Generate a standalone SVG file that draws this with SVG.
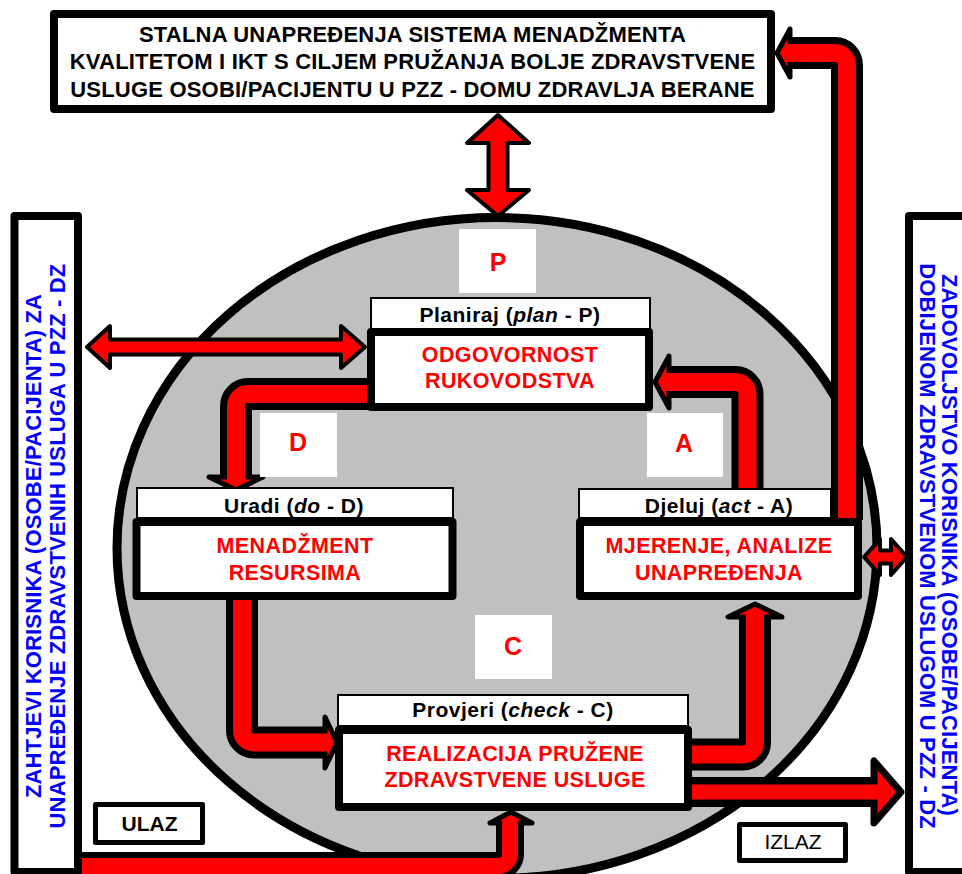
<svg xmlns="http://www.w3.org/2000/svg" width="962" height="874" viewBox="0 0 962 874">
<style>
text{font-family:"Liberation Sans",Arial,sans-serif;}
.blk{fill:none;stroke:#000;stroke-width:32;}
.red{fill:none;stroke:#f00;stroke-width:18;}
.head{fill:#f00;stroke:#000;stroke-width:5;stroke-linejoin:round;}
.dbl{fill:#f00;stroke:#000;stroke-width:4;stroke-linejoin:round;}
.box{fill:#fff;stroke:#000;stroke-width:8;stroke-linejoin:round;}
.lbl{fill:#fff;stroke:#000;stroke-width:2;}
.sq{fill:#fff;}
.small{fill:#fff;stroke:#000;stroke-width:5;stroke-linejoin:round;}
.t-top{font-size:22px;font-weight:bold;fill:#000;text-anchor:middle;letter-spacing:0.2px;}
.t-lbl{font-size:21px;font-weight:bold;fill:#000;text-anchor:middle;letter-spacing:0.5px;}
.t-red{font-size:21.5px;font-weight:bold;fill:#f00;text-anchor:middle;letter-spacing:0.4px;}
.t-let{font-size:25px;font-weight:bold;fill:#f00;text-anchor:middle;}
.t-side{font-size:22px;font-weight:bold;fill:#00f;text-anchor:middle;letter-spacing:0.15px;}
</style>
<rect width="962" height="874" fill="#fff"/>
<g id="cycle">
<ellipse cx="497" cy="548" rx="380" ry="330.5" fill="#c0c0c0" stroke="#000" stroke-width="9"/>
</g>
<g id="connectors">
<polygon class="dbl" points="498,115 529,143 507.5,143 507.5,190 529,190 498,216 467,190 488.5,190 488.5,143 467,143"/>
<polygon class="dbl" points="87,347 110,326 110,339.5 341,339.5 341,326 365,347 341,368 341,354.5 110,354.5 110,368"/>
<polygon class="dbl" points="864,557 880,539 880,550.5 891,550.5 891,539 907,557 891,575 891,563.5 880,563.5 880,575"/>
<path class="blk" d="M372 394 H248 A12 12 0 0 0 236 406 V478"/>
<polygon class="head" points="209,477 263,477 236,490"/>
<path class="red" d="M372 394 H248 A12 12 0 0 0 236 406 V481"/>
<path class="blk" d="M747.5 490 V394 A12 12 0 0 0 735.5 382 H668"/>
<polygon class="head" points="669,356 669,408 655,382"/>
<path class="red" d="M747.5 490 V394 A12 12 0 0 0 735.5 382 H666"/>
<path class="blk" d="M242 596 V730.5 A12 12 0 0 0 254 742.5 H325"/>
<polygon class="head" points="325,717 325,768 337,742.5"/>
<path class="red" d="M242 596 V730.5 A12 12 0 0 0 254 742.5 H328"/>
<path class="blk" d="M686 754.5 H743 A12 12 0 0 0 755 742.5 V617"/>
<polygon class="head" points="728,617 782,617 755,604"/>
<path class="red" d="M686 754.5 H743 A12 12 0 0 0 755 742.5 V614"/>
<path class="blk" style="stroke-width:30" d="M686 792 H874"/>
<polygon class="head" style="stroke-width:7" points="874,761 874,823 901,792"/>
<path class="red" style="stroke-width:15" d="M686 792 H878"/>
<path class="blk" style="stroke-width:28" d="M78 866 H498 A12 12 0 0 0 510 854 V823"/>
<polygon class="head" points="490,823 532,823 511,812"/>
<path class="red" style="stroke-width:16" d="M78 866 H498 A12 12 0 0 0 510 854 V820"/>
<path class="blk" d="M847 520 V65 A12 12 0 0 0 835 53 H790"/>
<polygon class="head" points="790,29 790,77 777,53"/>
<path class="red" d="M847 520 V65 A12 12 0 0 0 835 53 H787"/>
</g>
<g id="top-goal">
<rect class="box" x="54" y="14" width="717" height="95"/>
<text class="t-top" x="412.5" y="42">STALNA UNAPREĐENJA SISTEMA MENADŽMENTA</text>
<text class="t-top" x="412.5" y="69">KVALITETOM I IKT S CILJEM PRUŽANJA BOLJE ZDRAVSTVENE</text>
<text class="t-top" x="412.5" y="97">USLUGE OSOBI/PACIJENTU U PZZ - DOMU ZDRAVLJA BERANE</text>
</g>
<g id="left-requirements">
<rect class="box" x="14.5" y="216" width="63.5" height="656"/>
<text class="t-side" transform="translate(40.5,546) rotate(-90)">ZAHTJEVI KORISNIKA (OSOBE/PACIJENTA) ZA</text>
<text class="t-side" transform="translate(64.5,546) rotate(-90)">UNAPREĐENJE ZDRAVSTVENIH USLUGA U PZZ - DZ</text>
</g>
<g id="right-satisfaction">
<rect class="box" x="909" y="216" width="80" height="656"/>
<text class="t-side" transform="translate(941.5,545) rotate(90)">ZADOVOLJSTVO KORISNIKA (OSOBE/PACIJENTA)</text>
<text class="t-side" transform="translate(919.5,546) rotate(90)">DOBIJENOM ZDRAVSTVENOM USLUGOM U PZZ - DZ</text>
</g>
<g id="letter-p">
<rect class="sq" x="459" y="229" width="77" height="64"/>
<text class="t-let" x="498" y="271">P</text>
</g>
<g id="letter-d">
<rect class="sq" x="260" y="413" width="77" height="64"/>
<text class="t-let" x="298" y="451">D</text>
</g>
<g id="letter-a">
<rect class="sq" x="647" y="413" width="76" height="64"/>
<text class="t-let" x="684" y="452">A</text>
</g>
<g id="letter-c">
<rect class="sq" x="475" y="615" width="77" height="64"/>
<text class="t-let" x="513" y="655">C</text>
</g>
<g id="plan">
<rect class="lbl" x="371" y="298" width="279" height="32"/>
<text class="t-lbl" x="510" y="322">Planiraj (<tspan font-style="italic">plan</tspan> - P)</text>
<rect class="box" x="371" y="332" width="278" height="75"/>
<text class="t-red" x="510" y="362">ODGOVORNOST</text>
<text class="t-red" x="510" y="388">RUKOVODSTVA</text>
</g>
<g id="do">
<rect class="lbl" x="137" y="488" width="316" height="30"/>
<text class="t-lbl" x="294" y="513">Uradi (<tspan font-style="italic">do</tspan> - D)</text>
<rect class="box" x="136.5" y="522" width="316" height="74"/>
<text class="t-red" x="295" y="553">MENADŽMENT</text>
<text class="t-red" x="295" y="580">RESURSIMA</text>
</g>
<g id="act">
<rect class="lbl" x="579" y="489" width="252" height="29"/>
<text class="t-lbl" x="719" y="513">Djeluj (<tspan font-style="italic">act</tspan> - A)</text>
<rect class="box" x="580" y="522" width="278" height="74"/>
<text class="t-red" x="719" y="553">MJERENJE, ANALIZE</text>
<text class="t-red" x="719" y="580">UNAPREĐENJA</text>
</g>
<g id="check">
<rect class="lbl" x="338" y="695" width="350" height="31"/>
<text class="t-lbl" x="513" y="717">Provjeri (<tspan font-style="italic">check</tspan> - C)</text>
<rect class="box" x="339" y="730" width="349" height="77"/>
<text class="t-red" x="515" y="761">REALIZACIJA PRUŽENE</text>
<text class="t-red" x="515" y="787">ZDRAVSTVENE USLUGE</text>
</g>
<g id="ulaz">
<rect class="small" x="95.5" y="804.5" width="107" height="38"/>
<text x="149.5" y="831" font-size="21" font-weight="bold" text-anchor="middle" fill="#000">ULAZ</text>
</g>
<g id="izlaz">
<rect class="small" x="739.5" y="824.5" width="106" height="36"/>
<text x="793" y="849" font-size="21" text-anchor="middle" fill="#000">IZLAZ</text>
</g>
</svg>
